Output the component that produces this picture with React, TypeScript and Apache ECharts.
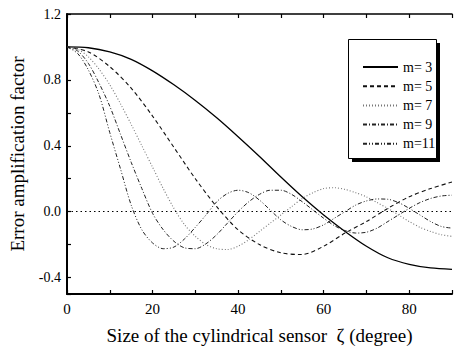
import React, { useEffect, useRef } from "react";
import * as echarts from "echarts";

const zeta5 = [0, 5, 10, 15, 20, 25, 30, 35, 40, 45, 50, 55, 60, 65, 70, 75, 80, 85, 90];
const zeta25 = [
  0, 2.5, 5, 7.5, 10, 12.5, 15, 17.5, 20, 22.5, 25, 27.5, 30, 32.5, 35, 37.5, 40, 42.5, 45,
  47.5, 50, 52.5, 55, 57.5, 60, 62.5, 65, 67.5, 70, 72.5, 75, 77.5, 80, 82.5, 85, 87.5, 90,
];

const m3 = [1.0, 0.995, 0.97, 0.925, 0.855, 0.77, 0.675, 0.57, 0.455, 0.335, 0.21, 0.09, -0.02, -0.12, -0.21, -0.28, -0.32, -0.342, -0.35];
const m5 = [1.0, 0.97, 0.88, 0.75, 0.58, 0.39, 0.2, 0.03, -0.11, -0.2, -0.25, -0.26, -0.21, -0.13, -0.06, 0.02, 0.09, 0.14, 0.18];
const m7 = [
  1.0, 0.985, 0.94, 0.865, 0.77, 0.655, 0.53, 0.4, 0.27, 0.14, 0.02, -0.08, -0.15, -0.2, -0.225, -0.23,
  -0.21, -0.17, -0.12, -0.07, -0.02, 0.03, 0.08, 0.115, 0.14, 0.145, 0.135, 0.115, 0.09, 0.055, 0.02,
  -0.02, -0.06, -0.095, -0.12, -0.14, -0.15,
];
const m9 = [
  1.0, 0.975, 0.9, 0.78, 0.64, 0.47, 0.3, 0.14, -0.01, -0.11, -0.18, -0.22, -0.225, -0.195, -0.14, -0.07,
  0.0, 0.06, 0.105, 0.13, 0.13, 0.105, 0.06, 0.01, -0.04, -0.085, -0.115, -0.13, -0.125, -0.1, -0.06,
  -0.02, 0.02, 0.055, 0.08, 0.095, 0.1,
];
const m11 = [
  1.0, 0.96, 0.86, 0.71, 0.48, 0.26, 0.04, -0.11, -0.19, -0.225, -0.215, -0.165, -0.095, -0.02, 0.06,
  0.11, 0.13, 0.115, 0.07, 0.01, -0.05, -0.09, -0.11, -0.105, -0.08, -0.04, 0.0, 0.04, 0.065, 0.077,
  0.075, 0.055, 0.02, -0.02, -0.06, -0.09, -0.1,
];

const seriesNames = ["m= 3", "m= 5", "m= 7", "m= 9", "m=11"];
const xTickLabels = ["0", "20", "40", "60", "80"];
const yTickLabels = ["-0.4", "0.0", "0.4", "0.8", "1.2"];

const FONT = '"Liberation Serif", "Times New Roman", serif';

export default function App() {
  const ref = useRef<HTMLDivElement>(null);
  useEffect(() => {
    if (!ref.current) return;
    const chart = echarts.init(ref.current, null, { renderer: "svg" });
    const pair = (xs: number[], ys: number[]) => xs.map((x, i) => [x, ys[i]]);
    const styles: any[] = [
      { color: "#000", width: 1.3, type: "solid" },
      { color: "#111", width: 1.1, type: [4, 3] },
      { color: "#777", width: 1.1, type: [1, 2] },
      { color: "#222", width: 1.0, type: [4, 2, 1, 2] },
      { color: "#222", width: 1.0, type: [4, 2, 1, 2, 1, 2] },
    ];
    const datasets = [pair(zeta5, m3), pair(zeta5, m5), pair(zeta25, m7), pair(zeta25, m9), pair(zeta25, m11)];
    const series: any[] = datasets.map((d, i) => ({
      name: seriesNames[i],
      type: "line",
      data: d,
      symbol: "none",
      showSymbol: false,
      smooth: 0.3,
      lineStyle: styles[i],
      itemStyle: { color: styles[i].color },
      z: 3,
      ...(i === 0
        ? {
            markLine: {
              silent: true,
              symbol: "none",
              label: { show: false },
              lineStyle: { color: "#000", type: [1.5, 3], width: 1 },
              data: [{ yAxis: 0 }],
            },
          }
        : {}),
    }));

    const isMult = (v: number, step: number) => Math.abs(v / step - Math.round(v / step)) < 1e-6;

    chart.setOption({
      animation: false,
      textStyle: { fontFamily: FONT },
      grid: { left: 64, right: 0, top: 14, bottom: 59, containLabel: false },
      xAxis: [
        {
          type: "value",
          min: 0,
          max: 90,
          interval: 10,
          position: "bottom",
          name: "Size of the cylindrical sensor  ζ (degree)",
          nameLocation: "middle",
          nameGap: 32,
          nameTextStyle: { fontFamily: FONT, fontSize: 19, color: "#000" },
          axisLine: { show: true, onZero: false, lineStyle: { color: "#000", width: 2 } },
          axisTick: { show: true, inside: true, length: 4, lineStyle: { color: "#000", width: 1.2 } },
          axisLabel: {
            fontFamily: FONT,
            fontSize: 15,
            color: "#000",
            margin: 7,
            formatter: (v: number) => (isMult(v, 20) ? xTickLabels[Math.round(v / 20)] : ""),
          },
          splitLine: { show: false },
        },
        {
          type: "value",
          min: 0,
          max: 90,
          interval: 10,
          position: "top",
          axisLine: { show: true, onZero: false, lineStyle: { color: "#000", width: 1.5 } },
          axisTick: { show: true, inside: true, length: 4, lineStyle: { color: "#000", width: 1.2 } },
          axisLabel: { show: false },
          splitLine: { show: false },
        },
      ],
      yAxis: {
        type: "value",
        min: -0.5,
        max: 1.2,
        splitNumber: 8,
        name: "Error amplification factor",
        nameLocation: "middle",
        nameGap: 40,
        nameTextStyle: { fontFamily: FONT, fontSize: 19, color: "#000" },
        axisLine: { show: true, onZero: false, lineStyle: { color: "#000", width: 2 } },
        axisTick: { show: true, inside: true, length: 4, lineStyle: { color: "#000", width: 1.2 } },
        axisLabel: {
          fontFamily: FONT,
          fontSize: 14,
          color: "#000",
          margin: 6,
          formatter: (v: number) => {
            if (v < -0.45 || !isMult(v, 0.4)) return "";
            const idx = Math.round((v + 0.4) / 0.4);
            return yTickLabels[idx] ?? "";
          },
        },
        splitLine: { show: false },
      },
      legend: {
        orient: "vertical",
        left: 357,
        top: 55,
        itemWidth: 35,
        itemHeight: 14,
        itemGap: 5.2,
        z: 10,
        itemStyle: { opacity: 0 },
        textStyle: { fontFamily: FONT, fontSize: 14, color: "#000" },
        data: seriesNames,
      },
      graphic: [
        {
          type: "rect",
          z: 5,
          shape: { x: 352, y: 43, width: 88, height: 119 },
          style: { fill: "#000" },
        },
        {
          type: "rect",
          z: 6,
          shape: { x: 348.5, y: 39.5, width: 88, height: 119 },
          style: { fill: "#fff", stroke: "#000", lineWidth: 1 },
        },
      ],
      series,
    });
    return () => chart.dispose();
  }, []);
  return (
    <div
      ref={ref}
      style={{ position: "fixed", left: 0, top: 0, width: 455, height: 353, background: "#fff" }}
    />
  );
}
